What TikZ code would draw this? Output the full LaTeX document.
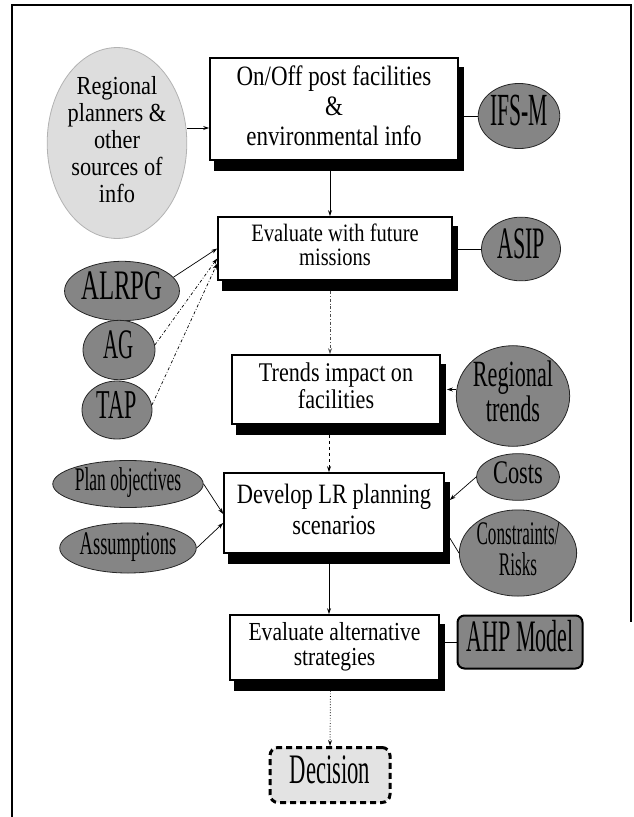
\documentclass[tikz,border=0pt]{standalone}
\usepackage{fontspec}
\setmainfont{Liberation Serif}
\usepackage{graphicx}
\usetikzlibrary{shapes.geometric,arrows.meta,backgrounds}

% horizontally condensed, centred block of lines
\newcommand{\narrowtext}[4]{\scalebox{#1}[1]{\fontsize{#2}{#3}\selectfont\begin{tabular}{@{}c@{}}#4\end{tabular}}}

\tikzset{
  stepbox/.style={draw=black, line width=1.6pt, fill=white, inner sep=0pt},
  oval/.style={ellipse, draw=black!85, line width=0.8pt, fill=black!48, inner sep=0pt},
  paleoval/.style={oval, fill=gray!27, draw=gray!60},
  arr/.style={-{Stealth[length=6pt,width=4pt]}, line width=0.7pt},
  link/.style={line width=0.7pt},
  boxshadow/.style={fill=black},
}

\begin{document}
\begin{tikzpicture}[x=1pt, y=-1pt]
\path[use as bounding box] (0,0) rectangle (634,817);

% outer frame
\draw[line width=1.5pt] (12,817) -- (12,5) -- (631,5) -- (631,622);

% main column of process boxes
\node[stepbox, minimum width=248pt, minimum height=102pt] (box1) at (334,109)
  {\narrowtext{0.82}{28}{30}{On/Off post facilities\\\&\\environmental info}};
\node[stepbox, minimum width=234pt, minimum height=63pt] (box2) at (335,248.5)
  {\narrowtext{0.82}{25}{24}{Evaluate with future\\missions}};
\node[stepbox, minimum width=208pt, minimum height=69pt] (box3) at (336,389.5)
  {\narrowtext{0.82}{27}{27}{Trends impact on\\facilities}};
\node[stepbox, minimum width=220pt, minimum height=80pt] (box4) at (334,513)
  {\narrowtext{0.8}{28}{31}{Develop LR planning\\scenarios}};
\node[stepbox, minimum width=209pt, minimum height=65pt] (box5) at (334.5,647.5)
  {\narrowtext{0.83}{26}{25}{Evaluate alternative\\strategies}};

% drop shadows behind the boxes
\begin{scope}[on background layer]
  \foreach \b in {box1,box2,box3,box4,box5}
    \fill[boxshadow] ([xshift=5pt,yshift=-10pt]\b.south west) rectangle ([xshift=5pt,yshift=-10pt]\b.north east);
\end{scope}

\node[draw=black, rounded corners=8pt, line width=3pt, dash pattern=on 6pt off 4pt,
      fill=gray!22, minimum width=120pt, minimum height=55pt, inner sep=0pt] (dec) at (330,775)
  {\narrowtext{0.54}{42}{42}{Decision}};

% inputs on the left
\node[paleoval, minimum width=136pt, minimum height=190pt] (src) at (117,143)
  {\narrowtext{0.86}{26}{27}{Regional\\planners \&\\other\\sources of\\info}};
\node[oval, minimum width=91pt, minimum height=45pt] (alrpg) at (122,291)
  {\narrowtext{0.59}{42}{42}{ALRPG}};
\node[oval, minimum width=72pt, minimum height=45pt] (ag) at (119,350)
  {\narrowtext{0.5}{42}{42}{AG}};
\node[oval, minimum width=70pt, minimum height=44pt] (tap) at (117,410)
  {\narrowtext{0.54}{41}{41}{TAP}};
\node[oval, minimum width=130pt, minimum height=47pt] (plan) at (128,484)
  {\narrowtext{0.53}{33}{33}{Plan objectives}};
\node[oval, minimum width=119pt, minimum height=50pt] (assum) at (128,548)
  {\narrowtext{0.56}{33}{33}{Assumptions}};

% inputs on the right
\node[oval, minimum width=78pt, minimum height=62pt] (ifsm) at (519,116)
  {\narrowtext{0.47}{46}{46}{IFS-M}};
\node[oval, minimum width=79pt, minimum height=53pt] (asip) at (521,249)
  {\narrowtext{0.49}{45}{45}{ASIP}};
\node[oval, minimum width=110pt, minimum height=80pt] (trends) at (513,396)
  {\narrowtext{0.6}{37}{33}{Regional\\trends}};
\node[oval, minimum width=83pt, minimum height=44pt] (costs) at (518,477)
  {\narrowtext{0.68}{33}{33}{Costs}};
\node[oval, minimum width=117pt, minimum height=75pt] (constr) at (518,553)
  {\narrowtext{0.52}{33}{27}{Constraints/\\Risks}};
\node[draw=black, rounded corners=7pt, line width=2pt, fill=black!48,
      minimum width=125pt, minimum height=53pt, inner sep=0pt] (ahp) at (520,642)
  {\narrowtext{0.49}{45}{45}{AHP Model}};

% flow down the column
\draw[arr] ([xshift=-4pt,yshift=-10pt]box1.south) -- ([xshift=-4pt]box1.south |- box2.north);
\draw[arr, dash dot, draw=black!70] ([xshift=-5pt,yshift=-10pt]box2.south) -- ([xshift=-5pt]box2.south |- box3.north);
\draw[arr, dashed] ([xshift=-7pt,yshift=-10pt]box3.south) -- ([xshift=-7pt]box3.south |- box4.north);
\draw[arr] ([xshift=-5pt,yshift=-10pt]box4.south) -- ([xshift=-5pt]box4.south |- box5.north);
\draw[arr, dotted, line width=0.9pt] ([xshift=-4pt,yshift=-10pt]box5.south) -- (dec.north);

% side connections
\draw[arr] ([yshift=15pt]src.east) -- ([yshift=-19pt]box1.west);
\draw[link] (box1.east |- ifsm.west) -- (ifsm.west);
\draw[link] (box2.east |- asip.west) -- (asip.west);
\draw[arr] (alrpg.15) -- (box2.west);
\draw[arr, dash dot] (ag.8) -- ([yshift=-10pt]box2.west);
\draw[arr, dash dot] (tap.8) -- ([yshift=-15pt]box2.west);
\draw[arr] (trends.west |- box3.east) -- ([xshift=6pt]box3.east);
\draw[arr] (plan.east) -- ([yshift=-1pt]box4.west);
\draw[arr] (assum.east) -- ([yshift=-10pt]box4.west);
\draw[arr] (costs.west) -- ([xshift=5pt,yshift=13pt]box4.east);
\draw[link] (constr.west) -- ([xshift=5pt,yshift=-25pt]box4.east);
\draw[link] (box5.east |- ahp.west) -- (ahp.west);
\end{tikzpicture}
\end{document}
